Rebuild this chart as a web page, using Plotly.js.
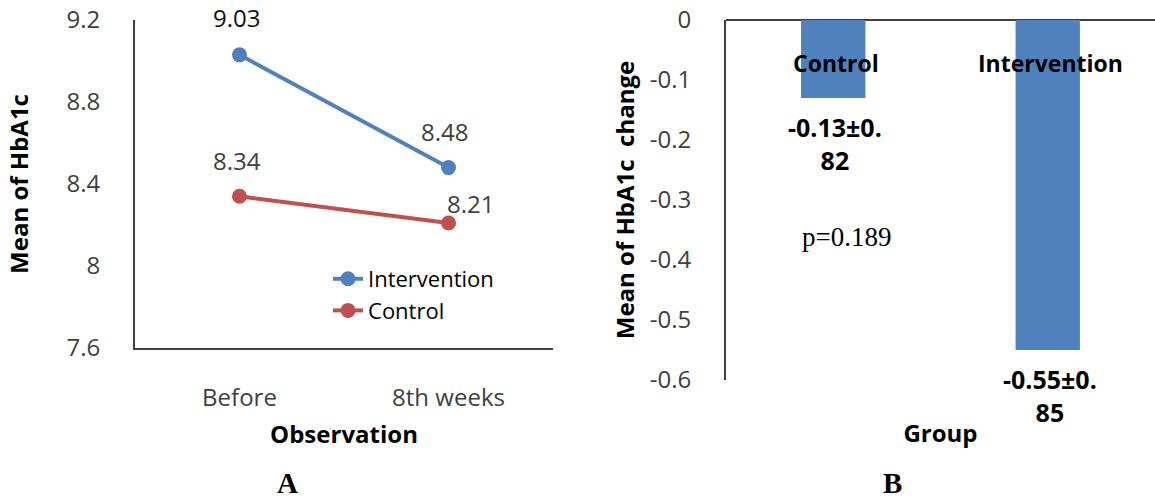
<!DOCTYPE html>
<html>
<head>
<meta charset="utf-8">
<script src="https://cdn.plot.ly/plotly-3.0.1.min.js"></script>
<style>html,body{margin:0;padding:0;background:#fff;}#chart{width:1155px;height:499px;}</style>
</head>
<body>
<div id="chart"></div>
<script>
// ---- data ----
const observations = ['Before', '8th weeks'];
const interventionMeans = [9.03, 8.48];
const controlMeans = [8.34, 8.21];
const groups = ['Control', 'Intervention'];
const changeMeans = [-0.13, -0.55];
const changeSDs = [0.82, 0.85];
const pValueText = 'p=0.189';
const panelLabels = ['A', 'B'];
const hba1cTicks = [7.6, 8, 8.4, 8.8, 9.2];
const changeTicks = [0, -0.1, -0.2, -0.3, -0.4, -0.5, -0.6];

// ---- styling ----
const FONT = 'Open Sans, Noto Sans, sans-serif';
const SERIF = 'Liberation Serif, DejaVu Serif, serif';
const BLUE = '#4F81BD', RED = '#C0504D', AXIS = '#404040', TICK = '#404040';

const fmt = v => v.toFixed(2);
const bandLabel = (m, sd) => { const s = fmt(sd); return fmt(m) + '±' + s.slice(0, 2) + '<br>' + s.slice(2); };

const traces = [
  {x: observations, y: interventionMeans, name: 'Intervention', type: 'scatter', mode: 'lines+markers',
   line: {color: BLUE, width: 4}, marker: {color: BLUE, size: 15}, xaxis: 'x', yaxis: 'y'},
  {x: observations, y: controlMeans, name: 'Control', type: 'scatter', mode: 'lines+markers',
   line: {color: RED, width: 4}, marker: {color: RED, size: 15}, xaxis: 'x', yaxis: 'y'},
  {x: groups, y: changeMeans, type: 'bar', width: 0.3, marker: {color: BLUE}, showlegend: false,
   xaxis: 'x2', yaxis: 'y2', hoverinfo: 'x+y'}
];

const annotations = [];
// point labels (left panel)
const ptShift = [[{x: -3, y: 37}, {x: -4, y: 36}], [{x: -3, y: 36}, {x: 22, y: 19}]];
[interventionMeans, controlMeans].forEach((series, si) => {
  series.forEach((v, i) => {
    annotations.push({x: observations[i], y: v, xref: 'x', yref: 'y', text: fmt(v), showarrow: false,
      xanchor: 'center', xshift: ptShift[si][i].x, yshift: ptShift[si][i].y,
      font: {family: FONT, size: 24, color: (si === 0 && i === 0) ? '#111' : TICK}});
  });
});
// bar category labels inside bars and value labels below bars
groups.forEach((g, i) => {
  annotations.push({x: g, y: 0, xref: 'x2', yref: 'y2', text: g, showarrow: false, xanchor: 'center', yanchor: 'middle',
    yshift: -43, xshift: 3, font: {family: FONT, size: 23, color: '#000', weight: 'bold'}});
  annotations.push({x: g, y: changeMeans[i], xref: 'x2', yref: 'y2', text: bandLabel(changeMeans[i], changeSDs[i]),
    showarrow: false, xanchor: 'center', yanchor: 'top', yshift: -10, xshift: 2,
    font: {family: FONT, size: 25, color: '#000', weight: 'bold'}});
});
annotations.push({x: 846 / 1155, y: 1 - 237 / 499, xref: 'paper', yref: 'paper', text: pValueText, showarrow: false,
  xanchor: 'center', yanchor: 'middle', font: {family: SERIF, size: 27, color: '#000'}});
annotations.push({x: 287 / 1155, y: 0, xref: 'paper', yref: 'paper', text: '<b>' + panelLabels[0] + '</b>', showarrow: false,
  xanchor: 'center', yanchor: 'bottom', yshift: -2, font: {family: SERIF, size: 29, color: '#000'}});
annotations.push({x: 892 / 1155, y: 0, xref: 'paper', yref: 'paper', text: '<b>' + panelLabels[1] + '</b>', showarrow: false,
  xanchor: 'center', yanchor: 'bottom', yshift: -2, font: {family: SERIF, size: 29, color: '#000'}});

const tickFont = {family: FONT, size: 24, color: TICK};
const titleFont = {family: FONT, size: 24, color: '#000', weight: 'bold'};

const layout = {
  width: 1155, height: 499,
  margin: {l: 0, r: 0, t: 0, b: 0},
  paper_bgcolor: '#fff', plot_bgcolor: '#fff',
  showlegend: true,
  legend: {x: 0.284, y: 1 - 258 / 499, xanchor: 'left', yanchor: 'top', bgcolor: 'rgba(0,0,0,0)',
    font: {family: FONT, size: 22, color: '#000'}, tracegroupgap: 0},
  xaxis: {domain: [135 / 1155, 553 / 1155], anchor: 'y', type: 'category', range: [-0.5, 1.5],
    showline: true, linecolor: AXIS, linewidth: 2, showgrid: false, zeroline: false, ticks: '',
    tickfont: tickFont, ticklabelstandoff: 27,
    title: {text: 'Observation', font: titleFont, standoff: 14}},
  yaxis: {domain: [1 - 348 / 499, 1 - 20 / 499], anchor: 'x', range: [7.6, 9.2],
    tickmode: 'array', tickvals: hba1cTicks, ticktext: hba1cTicks.map(v => String(v)),
    showline: true, linecolor: AXIS, linewidth: 2, showgrid: false, zeroline: false, ticks: '',
    tickfont: tickFont, ticklabelstandoff: 28,
    title: {text: 'Mean of HbA1c', font: titleFont, standoff: 31}},
  xaxis2: {domain: [726 / 1155, 1], anchor: 'y2', type: 'category', range: [-0.5, 1.5],
    showline: false, showgrid: false, zeroline: false, ticks: '', showticklabels: false,
    title: {text: 'Group', font: titleFont, standoff: 45}},
  yaxis2: {domain: [1 - 380 / 499, 1 - 20 / 499], anchor: 'x2', range: [-0.6, 0],
    tickmode: 'array', tickvals: changeTicks, ticktext: changeTicks.map(v => v === 0 ? '0' : v.toFixed(1)),
    showline: true, linecolor: AXIS, linewidth: 2, showgrid: false,
    zeroline: true, zerolinecolor: AXIS, zerolinewidth: 2, ticks: '',
    tickfont: tickFont, ticklabelstandoff: 28,
    title: {text: 'Mean of HbA1c  change', font: titleFont, standoff: 8}},
  annotations: annotations
};

Plotly.newPlot('chart', traces, layout, {displayModeBar: false, staticPlot: true});
</script>
</body>
</html>
